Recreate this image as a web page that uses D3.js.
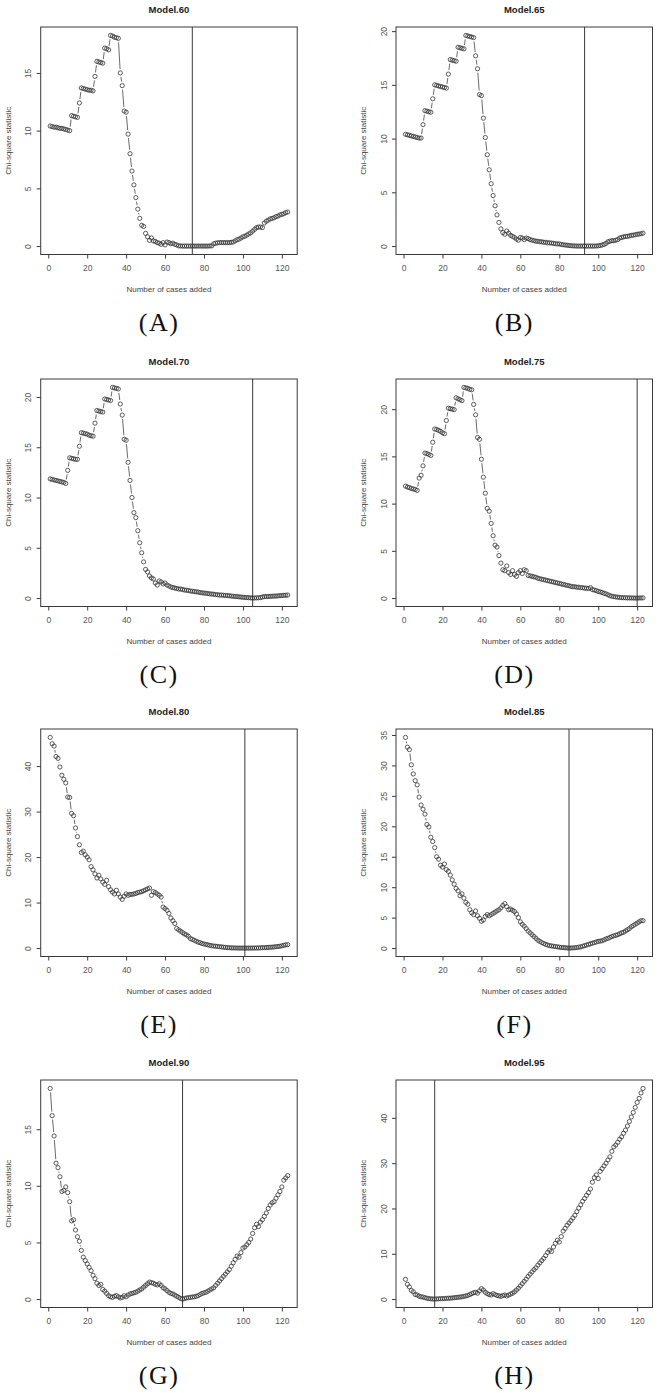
<!DOCTYPE html>
<html><head><meta charset="utf-8">
<script src="https://cdn.jsdelivr.net/npm/d3@7"></script>
<style>body{margin:0;background:#fff}svg{display:block}</style>
</head><body>
<svg id="c" width="659" height="1393"></svg>
<script>
const titles = ["Model.60","Model.65","Model.70","Model.75","Model.80","Model.85","Model.90","Model.95"];
const letters = ["(A)","(B)","(C)","(D)","(E)","(F)","(G)","(H)"];
const cutoffs = [74, 93, 105, 120, 101, 85, 69, 16];
const xTickValues = [0,20,40,60,80,100,120];
const yTicksA = [0,5,10,15];
const yTicksB = [0,5,10,15,20];
const yTicksC = [0,5,10,15,20];
const yTicksD = [0,5,10,15,20];
const yTicksE = [0,10,20,30,40];
const yTicksF = [0,5,10,15,20,25,30,35];
const yTicksG = [0,5,10,15];
const yTicksH = [0,10,20,30,40];

const model60 = [10.4,10.35,10.3,10.3,10.25,10.2,10.2,10.15,10.1,10.05,10.0,
11.3,11.25,11.2,11.15,12.4,13.7,13.65,13.6,13.55,13.5,13.5,13.45,14.7,16.0,15.95,15.9,15.85,
17.15,17.1,17.0,18.25,18.2,18.1,18.05,18.0,
15.0,13.9,11.7,11.6,9.7,8.0,6.5,5.3,4.2,3.2,2.4,
1.8,1.7,1.1,0.8,0.5,0.7,0.45,0.4,0.3,0.25,0.15,0.3,0.1,0.35,0.3,0.2,0.25,0.15,0.1,
0.02,0.01,0,0,0,0,0,0,0,0,0,0,0,0,0,0,0.01,0.02,
0.2,0.25,0.28,0.3,0.3,0.3,0.3,0.3,0.3,0.32,0.35,
0.45,0.55,0.6,0.7,0.8,0.85,0.95,1.05,1.15,1.3,1.45,1.6,1.65,1.65,1.6,
2.0,2.15,2.25,2.35,2.4,2.45,2.55,2.6,2.7,2.75,2.8,2.9,2.95];

const model65 = [10.4,10.35,10.3,10.25,10.2,10.15,10.1,10.05,10.05,11.3,
12.6,12.55,12.5,12.45,13.7,15.0,14.95,14.9,14.85,14.8,14.75,14.7,16.0,
17.35,17.3,17.25,17.2,18.5,18.45,18.4,18.35,19.6,19.55,19.5,19.45,19.4,
17.7,16.5,14.1,14.0,11.9,10.1,8.5,7.1,5.8,4.7,3.75,
2.9,2.2,1.6,1.25,1.1,1.4,1.2,1.0,0.9,0.8,0.65,0.55,0.8,0.75,0.6,0.75,0.7,0.6,0.55,0.5,
0.45,0.45,0.4,0.4,0.35,0.35,0.3,0.3,0.28,0.25,0.22,0.2,0.2,0.15,0.12,0.1,0.08,0.05,
0.03,0.02,0.01,0,0,0,0,0,0,0,0,0,0,0.01,0.02,0.05,
0.1,0.15,0.25,0.4,0.45,0.5,0.5,0.55,0.6,0.75,0.8,0.85,0.9,0.9,
0.95,1.0,1.02,1.05,1.1,1.12,1.15,1.2];

const model70 = [11.85,11.8,11.75,11.7,11.65,11.6,11.55,11.5,11.4,12.7,
13.95,13.9,13.85,13.8,13.8,15.1,16.45,16.4,16.35,16.3,16.2,16.15,16.1,17.4,
18.65,18.6,18.55,18.5,19.8,19.75,19.7,19.65,20.95,20.9,20.85,20.8,
19.3,18.2,15.8,15.7,13.5,11.7,10.0,
8.5,8.0,6.7,5.5,4.5,3.6,2.85,2.6,2.2,2.0,1.9,1.5,1.3,
1.7,1.6,1.4,1.5,1.3,1.2,1.1,1.05,1.0,0.95,0.9,0.9,0.85,0.8,
0.78,0.75,0.7,0.68,0.65,0.62,0.6,0.55,0.52,0.5,0.48,0.45,0.42,0.4,0.38,0.35,0.33,0.3,0.3,0.28,
0.26,0.25,0.23,0.2,0.18,0.16,0.15,0.12,0.1,0.08,0.06,0.05,0.03,0.02,0.0,
0.01,0.02,0.03,0.05,0.1,0.15,0.15,0.16,0.17,0.18,0.2,0.2,0.22,0.24,0.25,0.27,0.28,0.3];

const model75 = [11.85,11.75,11.7,11.6,11.55,11.5,11.4,12.7,13.0,14.0,
15.35,15.3,15.2,15.1,16.5,17.9,17.85,17.75,17.65,17.5,17.4,18.8,
20.1,20.05,20.0,19.95,21.2,21.1,21.0,20.9,22.3,22.25,22.2,22.1,22.05,
20.5,19.4,17.0,16.8,14.7,12.8,11.1,9.5,9.2,7.9,6.6,5.6,
5.4,4.5,3.7,3.0,2.9,3.4,2.7,2.5,2.9,2.5,2.3,2.7,2.9,2.6,3.0,2.9,2.4,
2.35,2.3,2.25,2.2,2.1,2.05,2.0,1.95,1.9,1.85,1.8,1.75,1.7,1.65,1.6,1.55,
1.5,1.45,1.4,1.35,1.3,1.25,1.2,1.2,1.15,1.15,1.1,1.1,1.05,1.05,1.0,
1.1,0.9,0.85,0.8,0.7,0.65,0.6,0.5,0.45,0.35,0.25,0.2,0.15,0.12,0.1,
0.06,0.05,0.04,0.03,0.02,0.02,0.01,0.01,0.0,0.0,0.01,0.01,0.02];

const model80 = [46.3,44.9,44.4,42.1,41.7,39.8,38.0,37.1,36.3,33.2,
33.1,29.6,29.1,26.4,24.5,22.7,21.0,21.3,20.5,20.0,
19.4,17.9,17.2,16.3,15.4,16.0,15.2,14.5,14.0,14.9,
13.5,12.8,12.3,11.9,12.7,11.9,11.2,10.7,11.4,11.9,11.6,
11.8,11.8,11.9,12.0,12.2,12.3,12.4,12.6,12.8,13.0,13.2,
11.6,12.4,12.2,11.9,11.6,11.2,9.0,8.7,8.3,7.6,6.6,6.0,5.4,
4.3,4.0,3.7,3.4,3.1,2.9,2.6,2.1,1.9,1.7,1.5,1.3,1.2,1.0,0.9,
0.8,0.7,0.6,0.5,0.45,0.4,0.35,0.3,0.25,0.2,
0.15,0.1,0.08,0.05,0.03,0.02,0.01,0.0,0.0,0.0,
0,0,0,0,0,0.01,0.02,0.03,0.05,0.08,
0.1,0.12,0.15,0.18,0.2,0.25,0.3,0.35,0.4,0.5,0.6,0.7,0.75];

const model85 = [34.6,33.0,32.6,30.1,28.6,27.5,26.8,24.8,23.5,22.8,
22.0,20.3,19.9,18.2,17.5,16.5,15.0,14.6,13.6,13.3,
13.8,12.9,12.6,12.0,11.2,10.5,9.8,9.4,8.6,8.9,
8.2,7.5,7.2,6.3,5.8,5.5,6.1,5.3,4.9,4.4,
4.6,5.2,5.5,5.3,5.5,5.7,5.9,6.1,6.3,6.6,
7.0,7.3,6.8,6.3,6.4,6.2,6.0,5.6,5.0,4.3,
3.9,3.6,3.2,2.8,2.5,2.2,1.9,1.6,1.3,1.1,
0.9,0.75,0.6,0.5,0.4,0.35,0.3,0.25,0.2,0.15,
0.1,0.08,0.05,0.02,0.0,0.01,0.03,0.05,0.1,0.15,
0.2,0.3,0.4,0.5,0.6,0.7,0.8,0.9,1.0,1.1,
1.15,1.2,1.35,1.5,1.6,1.75,1.9,2.0,2.1,2.2,
2.35,2.5,2.6,2.8,3.0,3.2,3.5,3.7,3.9,4.1,4.3,4.5,4.5];

const model90 = [18.6,16.2,14.4,12.0,11.6,10.8,9.5,9.6,9.9,9.4,
8.6,6.9,7.0,6.1,5.5,5.1,4.3,3.7,3.4,3.1,
2.8,2.5,2.1,1.8,1.4,1.2,1.3,0.85,0.7,0.5,
0.3,0.2,0.15,0.25,0.3,0.2,0.1,0.15,0.3,0.2,
0.35,0.45,0.5,0.55,0.6,0.7,0.8,0.9,1.05,1.2,
1.35,1.5,1.45,1.4,1.3,1.25,1.35,1.2,1.0,0.9,
0.75,0.6,0.5,0.45,0.35,0.25,0.15,0.05,0.0,0.05,
0.1,0.12,0.15,0.18,0.2,0.25,
0.3,0.4,0.5,0.55,0.6,0.7,0.8,0.9,1.0,1.2,
1.4,1.6,1.8,2.0,2.2,2.4,2.6,2.9,3.2,3.5,
3.8,3.7,4.1,4.5,4.6,4.8,5.0,5.3,5.8,6.3,
6.6,6.4,6.8,7.0,7.3,7.6,8.0,8.3,8.5,8.6,
8.9,9.2,9.5,9.9,10.5,10.7,10.9];

const model95 = [4.35,3.25,2.7,1.9,1.6,1.0,0.9,0.65,0.5,0.45,
0.3,0.2,0.1,0.05,0.02,0.0,0.02,0.05,0.08,0.1,
0.12,0.15,0.2,0.2,0.25,0.3,0.35,0.4,0.45,0.5,
0.6,0.7,0.8,1.0,1.2,1.4,1.5,1.3,1.8,2.3,
2.0,1.5,1.2,1.0,0.9,1.2,1.0,0.8,0.7,0.6,
0.8,0.9,0.7,0.9,1.1,1.3,1.6,2.0,2.4,2.9,
3.4,3.9,4.4,5.0,5.5,6.0,6.5,6.9,7.5,8.0,
8.5,9.0,9.6,10.3,10.8,10.5,11.5,12.3,13.0,12.6,
13.8,15.0,15.6,16.3,16.8,17.3,17.9,18.5,19.3,20.1,
20.8,21.6,22.2,22.9,23.5,24.3,25.8,26.8,27.4,26.6,
28.2,28.8,29.4,30.0,30.7,31.4,32.6,33.6,34.0,34.6,
35.3,35.8,36.6,37.3,38.2,39.2,40.2,41.2,42.3,43.4,
44.3,45.5,46.5];

const seriesList = [model60, model65, model70, model75, model80, model85, model90, model95];
const yTickList = [yTicksA, yTicksB, yTicksC, yTicksD, yTicksE, yTicksF, yTicksG, yTicksH];

const svg = d3.select("#c");
const colX = [40.7, 396];
const rowY = [27, 379, 729, 1080];
const W = 256.5, H = 227.5;
const ink = "#3a3a3a";
const sans = "'Liberation Sans', Arial, sans-serif";

seriesList.forEach((vals, i) => {
  const col = i % 2, row = Math.floor(i / 2);
  const g = svg.append("g").attr("transform", `translate(${colX[col]},${rowY[row]})`);
  const data = vals.map((v, k) => ({x: k + 1, y: v}));
  const n = data.length;
  const xr = (n - 1) * 0.04;
  const xs = d3.scaleLinear().domain([1 - xr, n + xr]).range([0, W]);
  const ext = d3.extent(vals);
  const yp = (ext[1] - ext[0]) * 0.04;
  const ys = d3.scaleLinear().domain([ext[0] - yp, ext[1] + yp]).range([H, 0]);

  const xa = g.append("g").attr("transform", `translate(0,${H})`)
    .call(d3.axisBottom(xs).tickValues(xTickValues).tickSize(4).tickSizeOuter(0).tickPadding(6));
  xa.select(".domain").remove();
  xa.selectAll("line").attr("stroke", ink);
  xa.selectAll("text").attr("fill", "#555").style("font-family", sans).style("font-size", "8.5px");

  const ya = g.append("g")
    .call(d3.axisLeft(ys).tickValues(yTickList[i]).tickSize(4).tickSizeOuter(0));
  ya.select(".domain").remove();
  ya.selectAll("line").attr("stroke", ink);
  ya.selectAll("text")
    .attr("x", null).attr("dy", null)
    .attr("text-anchor", "middle")
    .attr("transform", "translate(-12.4,0) rotate(-90)")
    .attr("dy", "0.35em")
    .attr("fill", "#555").style("font-family", sans).style("font-size", "8.5px");

  g.append("rect").attr("x", 0).attr("y", 0).attr("width", W).attr("height", H)
    .attr("fill", "none").attr("stroke", ink).attr("stroke-width", 1);

  g.append("line").attr("x1", xs(cutoffs[i])).attr("x2", xs(cutoffs[i]))
    .attr("y1", 0).attr("y2", H).attr("stroke", ink).attr("stroke-width", 1);

  const gap = 4;
  const segs = [];
  for (let k = 0; k < n - 1; k++) {
    const x0 = xs(data[k].x), y0 = ys(data[k].y), x1 = xs(data[k+1].x), y1 = ys(data[k+1].y);
    const dx = x1 - x0, dy = y1 - y0, L = Math.hypot(dx, dy);
    if (L > 2 * gap + 0.5) {
      const ux = dx / L, uy = dy / L;
      segs.push([x0 + ux * gap, y0 + uy * gap, x1 - ux * gap, y1 - uy * gap]);
    }
  }
  g.append("g").selectAll("line").data(segs).join("line")
    .attr("x1", d => d[0]).attr("y1", d => d[1]).attr("x2", d => d[2]).attr("y2", d => d[3])
    .attr("stroke", "#444").attr("stroke-width", 0.8);

  g.append("g").selectAll("circle").data(data).join("circle")
    .attr("cx", d => xs(d.x)).attr("cy", d => ys(d.y)).attr("r", 2.1)
    .attr("fill", "none").attr("stroke", "#333").attr("stroke-width", 0.8);

  g.append("text").attr("x", W / 2).attr("y", -17.7).attr("dy", "0.35em")
    .attr("text-anchor", "middle").attr("fill", "#222")
    .style("font-family", sans).style("font-weight", "bold").style("font-size", "9.5px")
    .text(titles[i]);

  g.append("text").attr("x", W / 2).attr("y", H + 34.3).attr("dy", "0.35em")
    .attr("text-anchor", "middle").attr("fill", "#444")
    .style("font-family", sans).style("font-size", "8px")
    .text("Number of cases added");
  g.append("text").attr("transform", `translate(-32.4,${H / 2}) rotate(-90)`).attr("dy", "0.35em")
    .attr("text-anchor", "middle").attr("fill", "#444")
    .style("font-family", sans).style("font-size", "8px")
    .text("Chi-square statistic");

  g.append("text").attr("x", W / 2 - 9.8).attr("y", 295).attr("dy", "0.35em")
    .attr("text-anchor", "middle").attr("fill", "#111")
    .style("font-family", "'Liberation Serif', 'Times New Roman', serif").style("font-size", "26px")
    .style("letter-spacing", "1.5px")
    .text(letters[i]);
});
</script>
</body></html>
